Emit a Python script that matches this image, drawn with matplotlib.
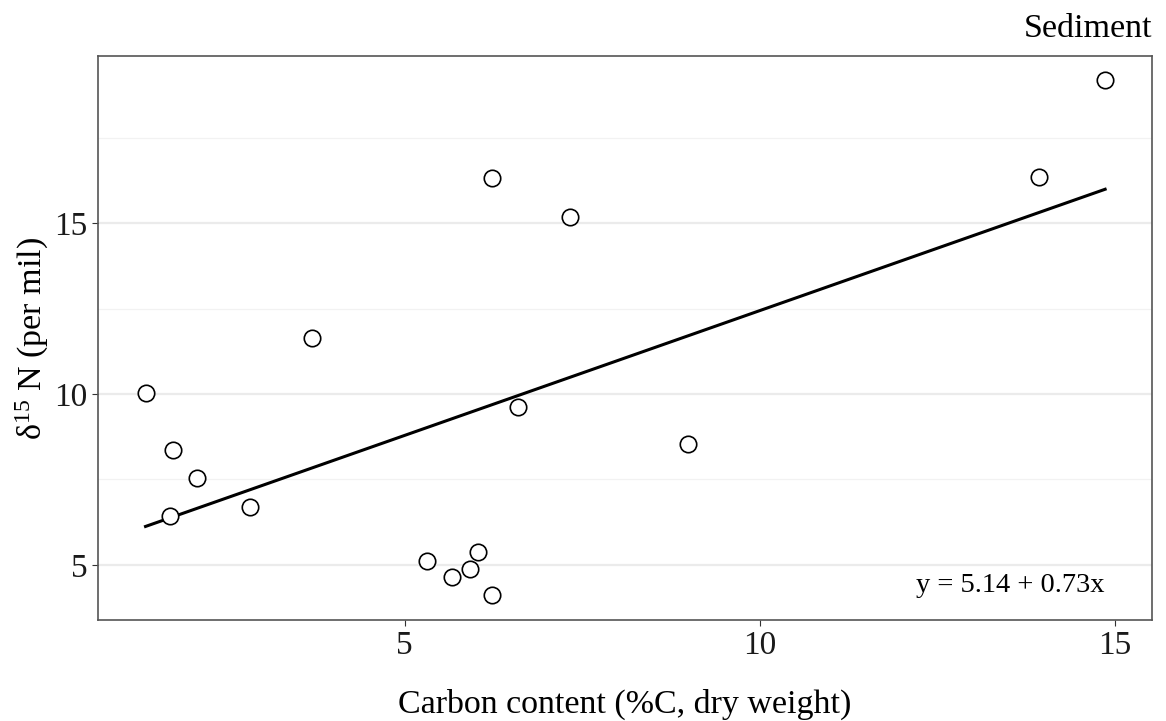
import matplotlib
matplotlib.use("Agg")
import matplotlib.pyplot as plt
import numpy as np

carbon = [1.35, 1.73, 1.69, 2.08, 2.82, 3.69, 5.31, 5.66, 5.92, 6.03, 6.23, 6.23, 6.59, 7.32, 8.99, 13.93, 14.86]
d15n = [10.03, 8.36, 6.43, 7.54, 6.70, 11.64, 5.12, 4.65, 4.88, 5.38, 4.12, 16.32, 9.62, 15.18, 8.54, 16.35, 19.18]
intercept = 5.14
slope = 0.73

plt.rcParams['font.family'] = ['Liberation Serif', 'DejaVu Serif']
plt.rcParams['mathtext.fontset'] = 'custom'
plt.rcParams['mathtext.rm'] = 'Liberation Serif'
plt.rcParams['mathtext.it'] = 'Liberation Serif'

fig = plt.figure(figsize=(11.66, 7.21), dpi=100)
ax = fig.add_axes([0.0840, 0.1401, 0.904, 0.782])

ax.set_xlim(0.68, 15.52)
ax.set_ylim(3.39, 19.88)

for y in [5, 10, 15]:
    ax.axhline(y, color='#ebebeb', lw=1.6, zorder=0)
for y in [7.5, 12.5, 17.5]:
    ax.axhline(y, color='#f2f2f2', lw=0.9, zorder=0)

xs = np.array([min(carbon), max(carbon)])
ax.plot(xs, intercept + slope * xs, color='black', lw=2.2, zorder=2)
ax.scatter(carbon, d15n, s=140, facecolors='white', edgecolors='black', linewidths=1.2, zorder=3)

ax.set_xticks([5, 10, 15])
ax.set_yticks([5, 10, 15])
ax.tick_params(labelsize=24, length=4, color='#333333', labelcolor='#1a1a1a')
for s in ax.spines.values():
    s.set_color('#555555')
    s.set_linewidth(1.2)

ax.set_xlabel('Carbon content (%C, dry weight)', fontsize=24.5, labelpad=20)
ax.set_ylabel('δ$^{15}$ N (per mil)', fontsize=24.5, labelpad=2)
ax.set_title('Sediment', loc='right', fontsize=24.5, pad=14)
ax.text(0.955, 0.062, 'y = 5.14 + 0.73x', transform=ax.transAxes, ha='right', va='center', fontsize=20.5)

fig.savefig('out.png', dpi=100)
